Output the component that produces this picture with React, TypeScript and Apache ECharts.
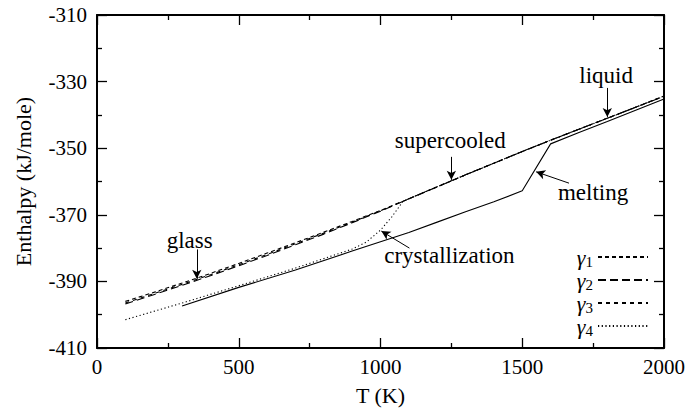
import React, { useEffect, useRef } from "react";
import * as echarts from "echarts";

const FONT = "Liberation Serif";

// Temperatures (K)
const T_UPPER = [100, 200, 300, 400, 500, 600, 700, 800, 900, 1000, 1100, 1200, 1300, 1400, 1500, 1600, 1700, 1800, 1900, 2000];
// Enthalpy (kJ/mole) for cooling rates gamma1..gamma3 (glass -> supercooled -> liquid)
const GAMMA1 = [-396.0, -393.3, -390.5, -387.6, -384.6, -381.5, -378.4, -375.2, -372.0, -368.7, -365.2, -361.6, -358.0, -354.5, -351.0, -347.6, -344.3, -341.0, -337.7, -334.3];
const GAMMA2 = [-396.8, -394.0, -391.2, -388.3, -385.3, -382.2, -379.0, -375.8, -372.4, -368.9, -365.2, -361.6, -358.0, -354.5, -351.0, -347.6, -344.3, -341.0, -337.7, -334.4];
const GAMMA3 = [-396.5, -393.7, -390.9, -388.0, -385.0, -381.9, -378.7, -375.5, -372.2, -368.8, -365.2, -361.6, -358.0, -354.5, -351.0, -347.6, -344.3, -341.0, -337.7, -334.4];

// gamma4 (crystallizes)
const T_G4 = [100, 300, 500, 700, 900, 950, 1000, 1040, 1080, 1100, 1200, 1300, 1400, 1500, 1600, 1700, 1800, 1900, 2000];
const GAMMA4 = [-401.5, -396.5, -391.3, -386.0, -380.3, -378.2, -374.6, -370.6, -365.9, -365.2, -361.6, -358.0, -354.5, -351.0, -347.6, -344.3, -341.0, -337.7, -334.4];

// heating of the crystal (solid line, no legend entry)
const T_SOLID = [300, 500, 700, 900, 1000, 1100, 1200, 1300, 1400, 1500, 1600, 1700, 1800, 1900, 2000];
const SOLID = [-397.4, -391.8, -386.6, -380.9, -378.1, -375.3, -372.2, -369.1, -366.1, -362.8, -348.7, -345.3, -342.0, -338.6, -335.2];

// Annotations: label text, label position [T, H], arrow tail [T, H], arrow head [T, H]
const ANNOT_TEXT = ["glass", "crystallization", "supercooled", "melting", "liquid"];
const ANNOT_LABEL: number[][] = [[327, -377.6], [1243, -382.1], [1246, -347.8], [1750, -363.2], [1796, -328.3]];
const ANNOT_TAIL: number[][] = [[352, -380.4], [1102, -380.0], [1250, -352.6], [1665, -360.5], [1800, -331.9]];
const ANNOT_HEAD: number[][] = [[352, -389.2], [1003, -374.9], [1250, -359.5], [1549, -357.1], [1800, -340.6]];

const zip = (xs: number[], ys: number[]) => xs.map((x, i) => [x, ys[i]]);

export default function App() {
  const ref = useRef<HTMLDivElement>(null);
  useEffect(() => {
    if (!ref.current) return;
    const chart = echarts.init(ref.current, null, { renderer: "svg" });
    const tickCommon = (show: boolean) => ({
      axisLine: { show: true, onZero: false, lineStyle: { color: "#000", width: 2 } },
      axisTick: { show: true, inside: true, length: 10, lineStyle: { color: "#000", width: 1.3 } },
      minorTick: { show: true, splitNumber: 2, length: 5, lineStyle: { color: "#000", width: 1.3 } },
      splitLine: { show: false },
      axisLabel: { show, color: "#000", fontSize: 21, fontFamily: FONT },
    });
    const lineSeries = (name: string, data: number[][], type: any) => ({
      name,
      type: "line",
      data,
      symbol: "none",
      showSymbol: false,
      lineStyle: { color: "#000", width: 1.1, type },
      itemStyle: { color: "#000" },
      silent: true,
    });
    chart.setOption({
      animation: false,
      backgroundColor: "#fff",
      textStyle: { fontFamily: FONT },
      grid: { left: 97, right: 23, top: 15, bottom: 64, containLabel: false },
      xAxis: [
        {
          type: "value", min: 0, max: 2000, interval: 500, position: "bottom",
          name: "T (K)", nameLocation: "middle", nameGap: 36,
          nameTextStyle: { color: "#000", fontSize: 22, fontFamily: FONT },
          ...tickCommon(true),
          axisLabel: { show: true, color: "#000", fontSize: 21, fontFamily: FONT, margin: 8, formatter: (v: number) => String(v) },
        },
        { type: "value", min: 0, max: 2000, interval: 500, position: "top", ...tickCommon(false) },
      ],
      yAxis: [
        {
          type: "value", min: -410, max: -310, interval: 20, position: "left",
          name: "Enthalpy (kJ/mole)", nameLocation: "middle", nameGap: 63,
          nameTextStyle: { color: "#000", fontSize: 22, fontFamily: FONT },
          ...tickCommon(true),
          axisLabel: { show: true, color: "#000", fontSize: 21, fontFamily: FONT, margin: 10, formatter: (v: number) => String(v) },
        },
        { type: "value", min: -410, max: -310, interval: 20, position: "right", ...tickCommon(false) },
      ],
      legend: {
        orient: "vertical",
        right: 34,
        top: 241,
        align: "right",
        itemWidth: 50,
        itemHeight: 12,
        itemGap: 0,
        selectedMode: false,
        itemStyle: { color: "rgba(0,0,0,0)", borderWidth: 0, opacity: 0 },
        data: ["γ1", "γ2", "γ3", "γ4"],
        formatter: (name: string) => `{g|γ}{s|${name.slice(1)}}`,
        textStyle: {
          color: "#000",
          fontFamily: FONT,
          fontSize: 22,
          rich: {
            g: { fontStyle: "italic", fontSize: 22, fontFamily: FONT, color: "#000" },
            s: { fontSize: 15, fontFamily: FONT, color: "#000", padding: [9, 0, 0, 0] },
          },
        },
      },
      series: [
        lineSeries("γ1", zip(T_UPPER, GAMMA1), [4, 3]),
        lineSeries("γ2", zip(T_UPPER, GAMMA2), [8, 4]),
        lineSeries("γ3", zip(T_UPPER, GAMMA3), [4, 4]),
        lineSeries("γ4", zip(T_G4, GAMMA4), [1.2, 2.5]),
        {
          ...lineSeries("crystal", zip(T_SOLID, SOLID), "solid"),
          markLine: {
            silent: true,
            symbol: ["none", "arrow"],
            symbolSize: [7, 9],
            label: { show: false },
            lineStyle: { color: "#000", width: 1, type: "solid" },
            data: ANNOT_TAIL.map((t, i) => [{ coord: t }, { coord: ANNOT_HEAD[i] }]),
          },
          markPoint: {
            silent: true,
            symbol: "circle",
            symbolSize: 0,
            itemStyle: { color: "transparent" },
            label: {
              show: true,
              position: "inside",
              color: "#000",
              fontFamily: FONT,
              fontSize: 23,
              formatter: (p: any) => p.name,
            },
            data: ANNOT_LABEL.map((c, i) => ({ name: ANNOT_TEXT[i], coord: c })),
          },
        },
      ],
    });
    return () => chart.dispose();
  }, []);
  return <div ref={ref} style={{ width: 688, height: 412, position: "absolute", left: 0, top: 0 }} />;
}
